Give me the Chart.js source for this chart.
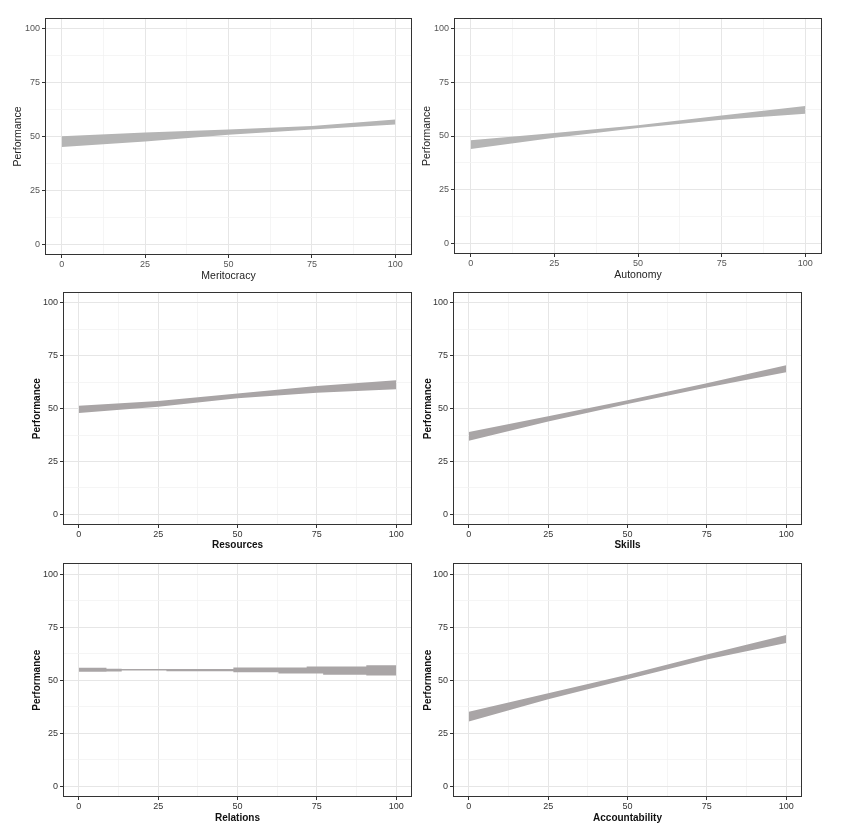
<!DOCTYPE html>
<html>
<head>
<meta charset="utf-8">
<script src="https://cdn.jsdelivr.net/npm/chart.js@4.4.1/dist/chart.umd.min.js"></script>
<style>
  body { margin: 0; background: #fff; }
  #wrap { position: relative; width: 855px; height: 838px; overflow: hidden; }
  #wrap canvas { position: absolute; }
</style>
</head>
<body>
<div id="wrap"></div>
<script>
// grid / tick positions (majors every 25, minors in between)
const axisTicks = [0, 12.5, 25, 37.5, 50, 62.5, 75, 87.5, 100];
const bandX = [0, 25, 50, 75, 100];

// confidence bands
const meritocracyUpper = [50.1, 51.9, 53.2, 54.9, 57.9];
const meritocracyLower = [45.1, 47.7, 50.8, 53.2, 55.6];

const autonomyUpper = [48.0, 51.4, 55.0, 59.6, 64.0];
const autonomyLower = [43.9, 49.2, 53.7, 57.6, 60.4];

const resourcesUpper = [51.4, 53.7, 57.2, 60.7, 63.5];
const resourcesLower = [48.0, 50.9, 55.0, 57.6, 59.2];

const skillsUpper = [39.0, 46.4, 54.0, 62.0, 70.6];
const skillsLower = [34.8, 44.0, 52.2, 60.0, 67.2];

// relations band is drawn as steps in the original
const relationsX = [0, 8.7, 13.5, 27.6, 48.7, 62.9, 71.8, 77, 90.6, 100];
const relationsUpper = [55.9, 55.4, 55.3, 55.3, 56.0, 56.0, 56.5, 56.5, 57.0, 57.0];
const relationsLower = [54.0, 54.1, 54.6, 54.2, 53.7, 53.2, 53.1, 52.6, 52.2, 52.2];

const accountabilityUpper = [35.1, 43.8, 52.6, 62.1, 71.3];
const accountabilityLower = [30.6, 41.0, 50.5, 59.8, 67.5];

const framePlugin = {
  id: 'frame',
  afterDraw(chart) {
    const a = chart.chartArea, ctx = chart.ctx;
    ctx.save();
    ctx.strokeStyle = '#333';
    ctx.lineWidth = 1;
    ctx.strokeRect(Math.round(a.left) + 0.5, Math.round(a.top) + 0.5,
      Math.round(a.right - a.left) - 1, Math.round(a.bottom - a.top) - 1);
    ctx.restore();
  }
};

function pts(xs, ys) {
  return xs.map((x, i) => ({x: x, y: ys[i]}));
}

function makePanel(p) {
  let canvas = document.createElement('canvas');
  canvas.width = p.canvas.w;
  canvas.height = p.canvas.h;
  canvas.style.left = p.canvas.l + 'px';
  canvas.style.top = p.canvas.t + 'px';
  document.getElementById('wrap').appendChild(canvas);

  const titleSize = p.dark ? 10 : 10.5;
  const lh = titleSize * 1.2;
  const yAxisW = p.frame.l - p.canvas.l;
  const xAxisH = p.canvas.t + p.canvas.h - p.frame.b;
  const titleFont = {family: 'Liberation Sans, Arial, sans-serif', size: titleSize, weight: p.dark ? 'bold' : 'normal'};
  const tickFont = {family: 'Liberation Sans, Arial, sans-serif', size: 9};
  const tickColor = p.dark ? '#333' : '#555';
  const titleColor = p.dark ? '#111' : '#222';

  const grid = {
    color: c => (c.tick && c.tick.value % 25) ? '#f3f3f3' : '#e6e6e6',
    lineWidth: c => (c.tick && c.tick.value % 25) ? 0.8 : 1,
    tickColor: c => (c.tick && c.tick.value % 25) ? 'rgba(0,0,0,0)' : '#333',
    tickLength: 3,
    drawTicks: true
  };
  const ticks = {
    autoSkip: false,
    maxRotation: 0,
    font: tickFont,
    color: tickColor,
    callback: v => (v % 25) ? '' : v
  };

  new Chart(canvas.getContext('2d'), {
    type: 'line',
    data: {
      datasets: [{
        data: pts(p.xs, p.upper),
        backgroundColor: p.band,
        borderWidth: 0,
        pointRadius: 0,
        stepped: p.stepped || false,
        fill: '+1'
      }, {
        data: pts(p.xs, p.lower),
        borderWidth: 0,
        pointRadius: 0,
        stepped: p.stepped || false,
        fill: false
      }]
    },
    options: {
      responsive: false,
      devicePixelRatio: 1,
      animation: false,
      layout: {
        padding: {
          top: p.frame.t - p.canvas.t,
          right: p.canvas.l + p.canvas.w - p.frame.r,
          left: 0,
          bottom: 0
        }
      },
      plugins: { legend: {display: false}, tooltip: {enabled: false} },
      scales: {
        x: {
          type: 'linear',
          min: -5, max: 105,
          afterBuildTicks: s => { s.ticks = axisTicks.map(v => ({value: v})); },
          afterFit: s => { s.height = xAxisH; },
          grid: grid,
          border: {display: false},
          ticks: Object.assign({}, ticks, {padding: 1}),
          title: {
            display: true, text: p.xTitle, font: titleFont, color: titleColor,
            padding: {top: 0, bottom: p.canvas.t + p.canvas.h - p.xTitleY - lh / 2}
          }
        },
        y: {
          type: 'linear',
          min: -5, max: 105,
          afterBuildTicks: s => { s.ticks = axisTicks.map(v => ({value: v})); },
          afterFit: s => { s.width = yAxisW; },
          grid: grid,
          border: {display: false},
          ticks: Object.assign({}, ticks, {padding: 2}),
          title: {
            display: true, text: 'Performance', font: titleFont, color: titleColor,
            padding: {top: p.yTitleX - p.canvas.l - lh / 2, bottom: 0}
          }
        }
      }
    },
    plugins: [framePlugin]
  });
}

const panels = [
  {xTitle: 'Meritocracy', xs: bandX, upper: meritocracyUpper, lower: meritocracyLower, band: '#b5b5b5',
   canvas: {l: 0, t: 0, w: 420, h: 290}, frame: {l: 45, t: 18, r: 412, b: 255}, yTitleX: 18, xTitleY: 276},
  {xTitle: 'Autonomy', xs: bandX, upper: autonomyUpper, lower: autonomyLower, band: '#b5b5b5',
   canvas: {l: 418, t: 0, w: 437, h: 290}, frame: {l: 454, t: 18, r: 822, b: 254}, yTitleX: 427, xTitleY: 275},
  {xTitle: 'Resources', xs: bandX, upper: resourcesUpper, lower: resourcesLower, band: '#a9a5a6', dark: true,
   canvas: {l: 0, t: 285, w: 425, h: 275}, frame: {l: 63, t: 291, r: 412, b: 525}, yTitleX: 37, xTitleY: 545},
  {xTitle: 'Skills', xs: bandX, upper: skillsUpper, lower: skillsLower, band: '#a9a5a6', dark: true,
   canvas: {l: 420, t: 285, w: 435, h: 275}, frame: {l: 453, t: 291, r: 802, b: 525}, yTitleX: 428, xTitleY: 545},
  {xTitle: 'Relations', xs: relationsX, upper: relationsUpper, lower: relationsLower, band: '#a9a5a6', dark: true, stepped: true,
   canvas: {l: 0, t: 556, w: 425, h: 282}, frame: {l: 63, t: 563, r: 412, b: 797}, yTitleX: 37, xTitleY: 818},
  {xTitle: 'Accountability', xs: bandX, upper: accountabilityUpper, lower: accountabilityLower, band: '#a9a5a6', dark: true,
   canvas: {l: 420, t: 556, w: 435, h: 282}, frame: {l: 453, t: 563, r: 802, b: 797}, yTitleX: 428, xTitleY: 818}
];

for (let i = 0; i < panels.length; i++) {
  makePanel(panels[i]);
}
</script>
</body>
</html>
